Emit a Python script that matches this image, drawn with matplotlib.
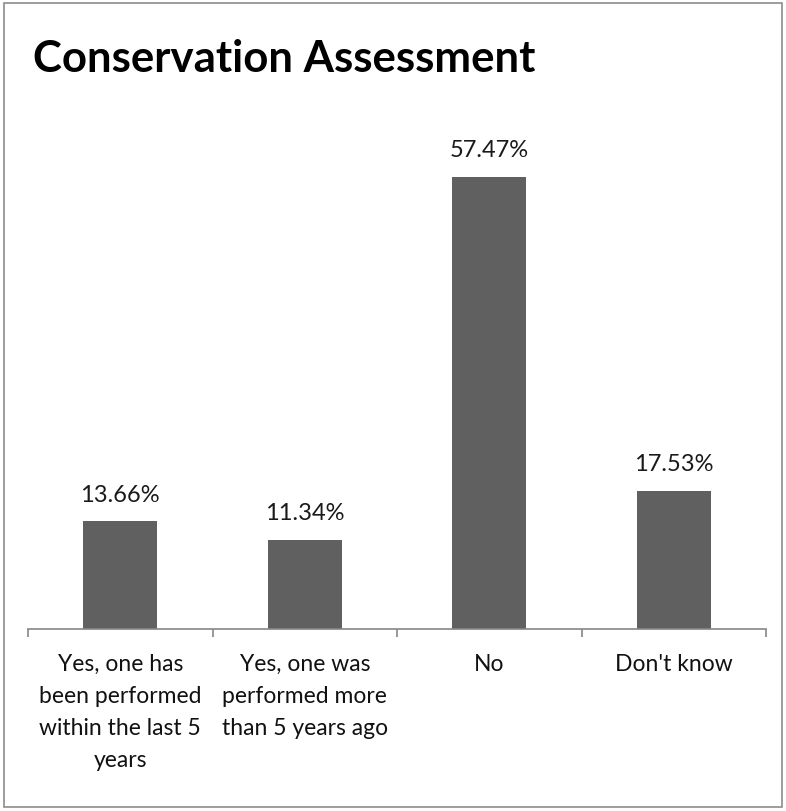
import matplotlib
matplotlib.use("Agg")
from matplotlib import pyplot as plt
from matplotlib.patches import Rectangle

# Dados do gráfico
categorias = [
    "Yes, one has\nbeen performed\nwithin the last 5\nyears",
    "Yes, one was\nperformed more\nthan 5 years ago",
    "No",
    "Don't know",
]
valores = [13.66, 11.34, 57.47, 17.53]
rotulos = ["13.66%", "11.34%", "57.47%", "17.53%"]
titulo = "Conservation Assessment"

plt.rcParams['font.family'] = ['Lato', 'DejaVu Sans']

W, H = 786, 812
fig = plt.figure(figsize=(W / 100, H / 100), dpi=100)

# Moldura cinza em volta do gráfico
fig.patches.append(Rectangle((4 / W, 4 / H), 778 / W, 804 / H, transform=fig.transFigure,
                             fill=False, edgecolor="#8c8c8c", linewidth=1.2))

ax = fig.add_axes([28 / W, (H - 630) / H, 738 / W, 551 / H])
x = list(range(len(valores)))
ax.bar(x, valores, width=0.40, color="#606060")
ax.set_xlim(-0.5, len(valores) - 0.5)
ax.set_ylim(0, 70)

for xi, v, r in zip(x, valores, rotulos):
    ax.annotate(r, (xi, v), xytext=(0, 12), textcoords="offset points",
                ha="center", va="bottom", fontsize=17, color="#1a1a1a")

for s in ["top", "right", "left"]:
    ax.spines[s].set_visible(False)
ax.spines["bottom"].set_color("#868686")
ax.spines["bottom"].set_linewidth(1.2)
ax.set_yticks([])

ax.set_xticks([-0.5, 0.5, 1.5, 2.5, 3.5], minor=False)
ax.set_xticklabels([])
ax.tick_params(axis="x", which="major", length=6, color="#868686", width=1.2)
ax.set_xticks(x, minor=True)
ax.set_xticklabels(categorias, minor=True, fontsize=16.5, color="#111111", linespacing=1.65)
ax.tick_params(axis="x", which="minor", length=0, pad=17)

fig.text(33 / W, 1 - 72 / H, titulo, fontsize=31.5, fontweight="bold", ha="left", va="baseline")

fig.savefig("out.png", dpi=100, facecolor="white")
